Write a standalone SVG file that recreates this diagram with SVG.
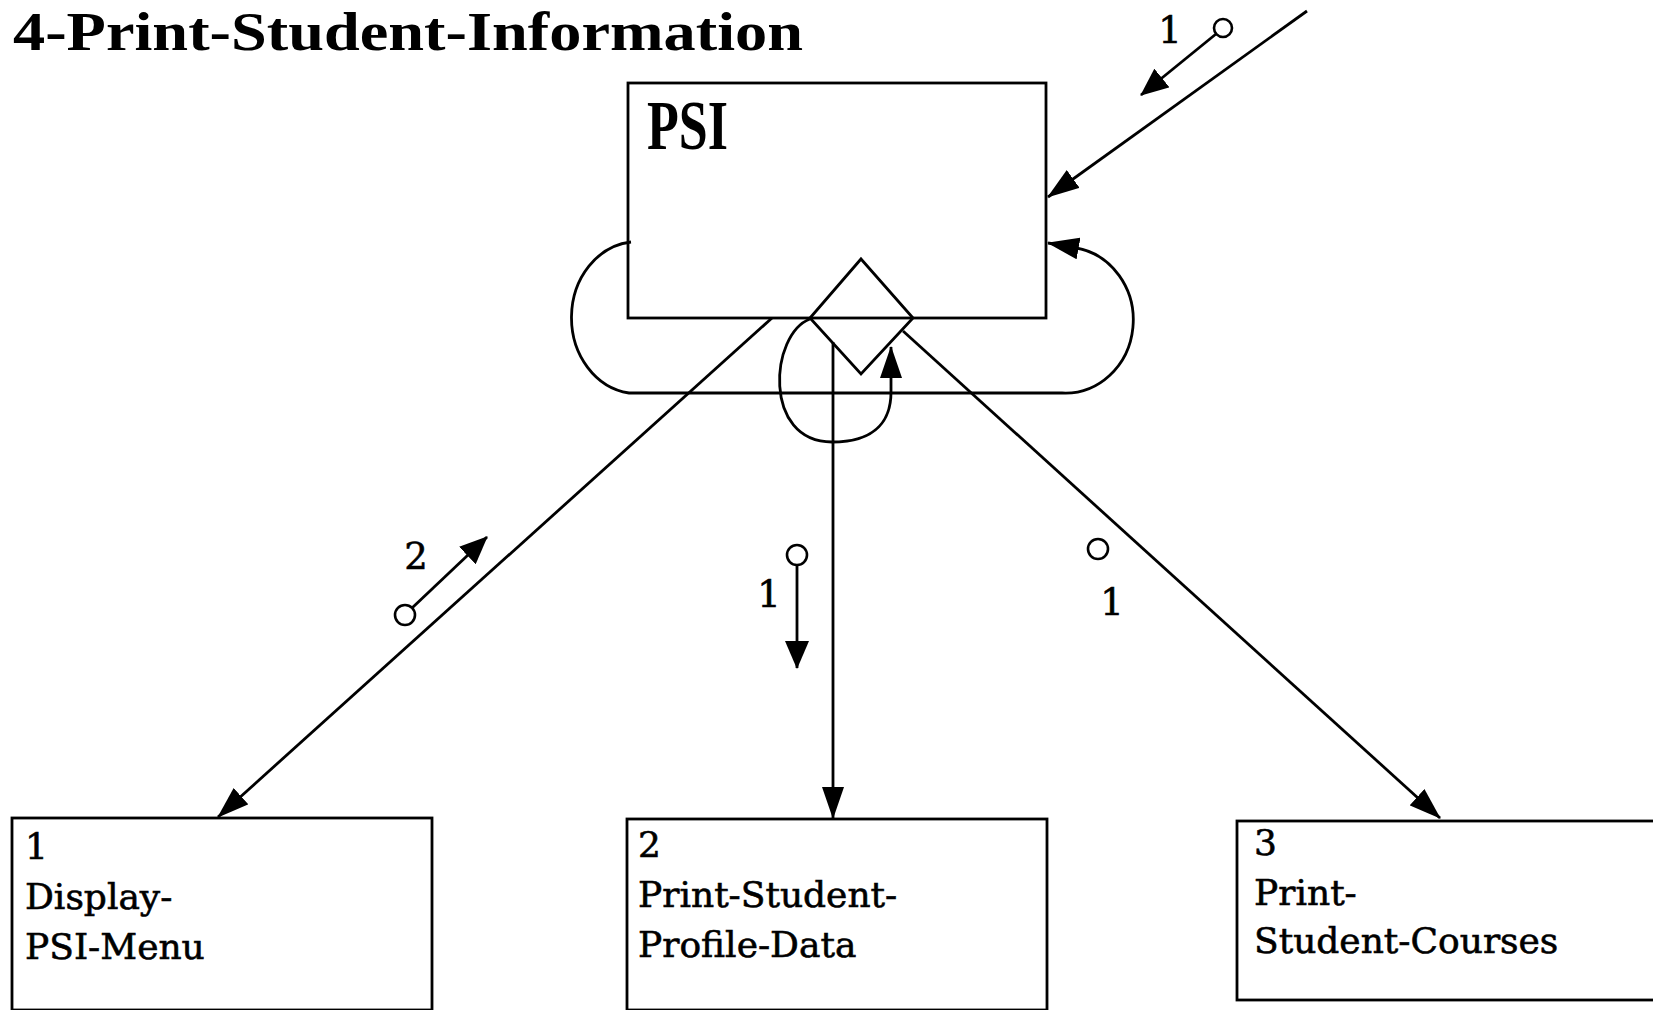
<svg xmlns="http://www.w3.org/2000/svg" width="1653" height="1010" viewBox="0 0 1653 1010">
<style>
.box{fill:#fff;stroke:#000;stroke-width:2.8}
.ln{fill:none;stroke:#000;stroke-width:2.8}
.lbl{font-family:"DejaVu Serif","Liberation Serif",serif;font-size:36px;fill:#000;stroke:#000;stroke-width:0.6}
.num{font-family:"DejaVu Serif","Liberation Serif",serif;font-size:37px;fill:#000;stroke:#000;stroke-width:0.6;text-anchor:middle}
.head{font-family:"Liberation Serif",serif;font-weight:bold;fill:#000}
.cpl{fill:#fff;stroke:#000;stroke-width:2.6}
</style>
<defs>
<marker id="arr" markerUnits="userSpaceOnUse" viewBox="0 0 32 22" markerWidth="32" markerHeight="22" refX="31" refY="11" orient="auto">
<path d="M0,0 L32,11 L0,22 z" fill="#000"/>
</marker>
<marker id="sarr" markerUnits="userSpaceOnUse" viewBox="0 0 28 24" markerWidth="28" markerHeight="24" refX="27" refY="12" orient="auto">
<path d="M0,0 L28,12 L0,24 z" fill="#000"/>
</marker>
</defs>
<rect width="1653" height="1010" fill="#fff"/>
<text class="head" x="13" y="50" font-size="54" textLength="790" lengthAdjust="spacingAndGlyphs">4-Print-Student-Information</text>

<g id="connectors">
<!-- incoming -->
<line class="ln" x1="1307" y1="11" x2="1048" y2="197" marker-end="url(#arr)"/>
<!-- loop around PSI -->
<path class="ln" d="M631,242 A66,76 0 0 0 629,393 L1062,393 A68,73 0 0 0 1076,248 L1048,243" marker-end="url(#arr)"/>
<!-- small loop under diamond -->
<path class="ln" d="M810,319 C770,334 762,442 832,442 C878,442 891,418 891,392 L891,347" marker-end="url(#arr)"/>
<!-- to box 1 -->
<line class="ln" x1="772" y1="318" x2="218" y2="817" marker-end="url(#arr)"/>
<!-- to box 2 -->
<line class="ln" x1="833" y1="342" x2="833" y2="818" marker-end="url(#arr)"/>
<!-- to box 3 -->
<line class="ln" x1="903" y1="331" x2="1440" y2="818" marker-end="url(#arr)"/>
</g>

<g id="node-psi">
<rect class="box" x="628" y="83" width="418" height="235" style="fill:none"/>
<text class="head" x="647" y="149" font-size="70" textLength="81" lengthAdjust="spacingAndGlyphs">PSI</text>
<polygon id="selection" class="box" points="861,259 913,318 861,374 810,318" style="fill:none"/>
</g>

<g id="node-1">
<rect class="box" x="12" y="818" width="420" height="192"/>
<text class="lbl" x="25" y="859">1</text>
<text class="lbl" x="25" y="909">Display-</text>
<text class="lbl" x="25" y="959">PSI-Menu</text>
</g>

<g id="node-2">
<rect class="box" x="627" y="819" width="420" height="191"/>
<text class="lbl" x="638" y="857">2</text>
<text class="lbl" x="638" y="907">Print-Student-</text>
<text class="lbl" x="638" y="957">Profile-Data</text>
</g>

<g id="node-3">
<rect class="box" x="1237" y="821" width="430" height="179"/>
<text class="lbl" x="1254" y="855">3</text>
<text class="lbl" x="1254" y="905">Print-</text>
<text class="lbl" x="1254" y="953">Student-Courses</text>
</g>

<g id="couples">
<line class="ln" x1="1216" y1="34" x2="1141" y2="95" marker-end="url(#sarr)"/>
<circle class="cpl" cx="1223" cy="28" r="9"/>
<text class="num" x="1170" y="43">1</text>

<line class="ln" x1="412" y1="608" x2="487" y2="537" marker-end="url(#sarr)"/>
<circle class="cpl" cx="405" cy="615" r="10"/>
<text class="num" x="416" y="569">2</text>

<line class="ln" x1="797" y1="565" x2="797" y2="668" marker-end="url(#sarr)"/>
<circle class="cpl" cx="797" cy="555" r="10"/>
<text class="num" x="769" y="607">1</text>

<circle class="cpl" cx="1098" cy="549" r="10"/>
<text class="num" x="1112" y="615">1</text>
</g>
</svg>
